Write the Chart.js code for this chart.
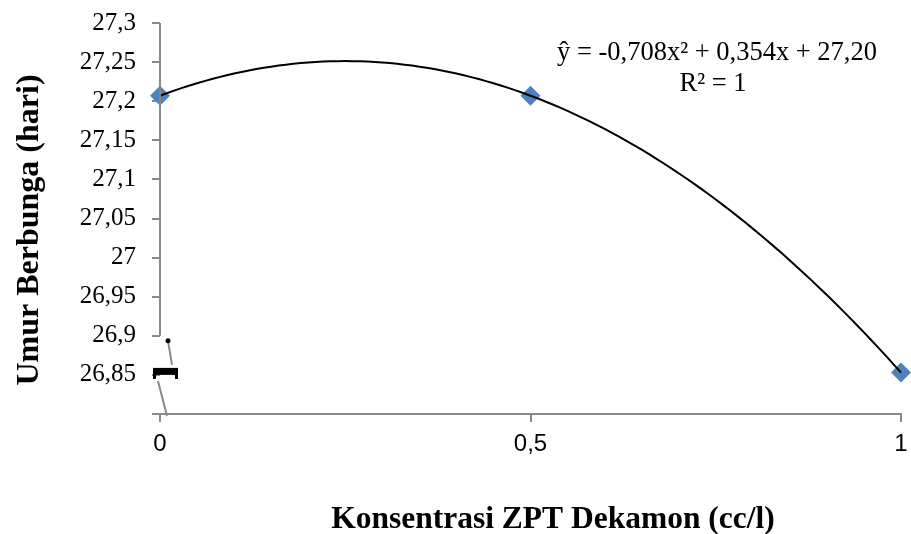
<!DOCTYPE html>
<html>
<head>
<meta charset="utf-8">
<script src="https://cdn.jsdelivr.net/npm/chart.js@4.4.1/dist/chart.umd.min.js"></script>
<style>
html,body{margin:0;padding:0;background:#fff;}
#wrap{width:911px;height:534px;position:relative;}
</style>
</head>
<body>
<div id="wrap"><canvas id="c" width="911" height="534"></canvas></div>
<script>
// ---- data ----
const xValues = [0, 0.5, 1];
const yValues = [27.207, 27.207, 26.853];
const xTicks = [0, 0.5, 1];
const yTicks = [26.8, 26.85, 26.9, 26.95, 27, 27.05, 27.1, 27.15, 27.2, 27.25, 27.3];
const equationLines = ['ŷ = -0,708x² + 0,354x + 27,20', 'R² = 1'];
const xTitle = 'Konsentrasi ZPT Dekamon (cc/l)';
const yTitle = 'Umur Berbunga (hari)';

// quadratic trendline fitted exactly through the three observations (Excel-style polynomial trendline)
function fitQuadratic(xs, ys) {
  const [x0, x1, x2] = xs, [y0, y1, y2] = ys;
  const d = (x0 - x1) * (x0 - x2) * (x1 - x2);
  const a = (x2 * (y1 - y0) + x1 * (y0 - y2) + x0 * (y2 - y1)) / d;
  const b = (x2 * x2 * (y0 - y1) + x1 * x1 * (y2 - y0) + x0 * x0 * (y1 - y2)) / d;
  const c = (x1 * x2 * (x1 - x2) * y0 + x2 * x0 * (x2 - x0) * y1 + x0 * x1 * (x0 - x1) * y2) / d;
  return [a, b, c];
}
const coef = fitQuadratic(xValues, yValues);
const trend = [];
for (let i = 0; i <= 100; i++) {
  const x = i / 100;
  trend.push({x: x, y: coef[0] * x * x + coef[1] * x + coef[2]});
}

const fmt = v => String(+(+v).toFixed(2)).replace('.', ',');
const AXIS = '#898989';
const SERIF = '"Liberation Serif", "Times New Roman", serif';

const decorPlugin = {
  id: 'decorPlugin',
  afterDraw(chart) {
    const ctx = chart.ctx;
    const ys = chart.scales.y, xs = chart.scales.x;
    const ax = xs.getPixelForValue(0);
    const yTop = ys.getPixelForValue(27.3);
    const y09 = ys.getPixelForValue(26.9);
    const y085 = ys.getPixelForValue(26.85);
    const yBot = ys.getPixelForValue(26.8);
    ctx.save();
    // y axis line down to 26.9 only (axis break below)
    ctx.strokeStyle = AXIS;
    ctx.lineWidth = 2;
    ctx.beginPath();
    ctx.moveTo(ax, yTop);
    ctx.lineTo(ax, y09);
    ctx.stroke();
    // break symbol
    ctx.strokeStyle = '#8a8a8a';
    ctx.beginPath();
    ctx.moveTo(ax + 8, y09 + 5);
    ctx.lineTo(ax + 12, y085 - 10);
    ctx.stroke();
    ctx.beginPath();
    ctx.moveTo(ax - 2, y085 + 6);
    ctx.lineTo(ax + 7, yBot + 2);
    ctx.stroke();
    ctx.fillStyle = '#000';
    ctx.beginPath();
    ctx.arc(ax + 8, y09 + 5, 2.5, 0, Math.PI * 2);
    ctx.fill();
    ctx.fillRect(ax - 7, y085 - 7, 25, 7);
    ctx.fillRect(ax - 7, y085, 3, 4);
    ctx.fillRect(ax + 15, y085, 3, 4);
    // equation text
    ctx.font = '26.5px ' + SERIF;
    ctx.textAlign = 'center';
    ctx.textBaseline = 'alphabetic';
    ctx.fillText(equationLines[0], 717, 60);
    ctx.fillText(equationLines[1], 713, 91);
    // axis titles
    ctx.font = 'bold 31.5px ' + SERIF;
    ctx.fillText(xTitle, 553, 528);
    ctx.translate(38, 230);
    ctx.rotate(-Math.PI / 2);
    ctx.font = 'bold 32px ' + SERIF;
    ctx.fillText(yTitle, 0, 0);
    ctx.restore();
  }
};

new Chart(document.getElementById('c'), {
  type: 'scatter',
  data: {
    datasets: [
      {
        data: trend,
        showLine: true,
        borderColor: '#000',
        borderWidth: 2,
        pointRadius: 0,
        tension: 0,
        clip: false,
        order: 0
      },
      {
        data: xValues.map((x, i) => ({x: x, y: yValues[i]})),
        pointStyle: 'rectRot',
        pointRadius: 10,
        backgroundColor: '#4F81BD',
        borderColor: '#4F81BD',
        borderWidth: 0,
        clip: false,
        order: 1
      }
    ]
  },
  options: {
    responsive: false,
    animation: false,
    devicePixelRatio: 1,
    layout: {padding: {top: 23, right: 8, left: 0, bottom: 0}},
    plugins: {legend: {display: false}, tooltip: {enabled: false}},
    scales: {
      x: {
        type: 'linear',
        min: 0, max: 1,
        afterBuildTicks: s => { s.ticks = xTicks.map(v => ({value: v})); },
        afterFit: s => { s.height = 120; s.paddingLeft = 0; s.paddingRight = 0; },
        border: {display: true, color: AXIS, width: 2},
        grid: {drawOnChartArea: false, drawTicks: true, tickLength: 8, color: AXIS, lineWidth: 2},
        ticks: {
          color: '#000',
          padding: 8,
          maxRotation: 0,
          font: {family: '"Liberation Sans Narrow", "Liberation Sans", Arial, sans-serif', size: 24},
          callback: v => fmt(v)
        },
        title: {display: false}
      },
      y: {
        type: 'linear',
        min: 26.8, max: 27.3,
        afterBuildTicks: s => { s.ticks = yTicks.map(v => ({value: v})); },
        afterFit: s => { s.width = 160; s.paddingTop = 0; s.paddingBottom = 0; },
        border: {display: false},
        grid: {drawOnChartArea: false, drawTicks: true, tickLength: 8, color: AXIS, lineWidth: 2},
        ticks: {
          color: '#000',
          padding: 16,
          font: {family: SERIF, size: 25},
          callback: v => (Math.abs(v - 26.8) < 1e-6 ? '' : fmt(v))
        },
        title: {display: false}
      }
    }
  },
  plugins: [decorPlugin]
});
</script>
</body>
</html>
